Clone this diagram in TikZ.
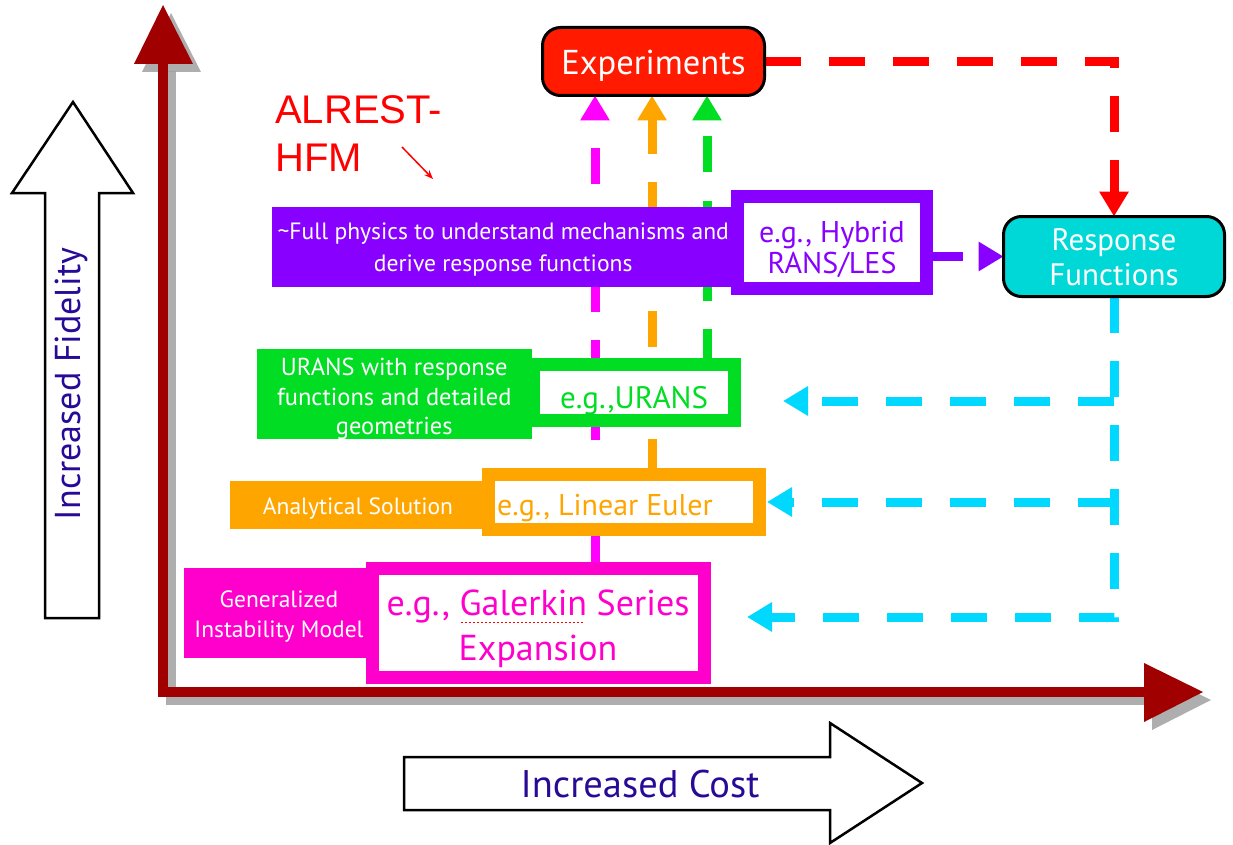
\documentclass[tikz,border=0pt]{standalone}
\usepackage{fontspec}
\setmainfont{PT Sans}
\newfontfamily\arialfont{Liberation Sans}
\usetikzlibrary{arrows.meta,backgrounds,calc}
\definecolor{axisred}{RGB}{160,0,0}
\definecolor{shadowgray}{RGB}{160,160,160}
\definecolor{expred}{RGB}{255,26,0}
\definecolor{dashred}{RGB}{255,0,0}
\definecolor{respcyan}{RGB}{0,216,216}
\definecolor{linecyan}{RGB}{0,216,255}
\definecolor{purp}{RGB}{136,0,255}
\definecolor{grn}{RGB}{0,221,34}
\definecolor{orng}{RGB}{255,165,0}
\definecolor{mag}{RGB}{255,0,204}
\definecolor{magline}{RGB}{255,0,255}
\definecolor{navy}{RGB}{40,10,150}
\newsavebox\spellbox
\newcommand\spellmark[1]{\sbox\spellbox{#1}\rlap{\raisebox{-8pt}{\color{red}\leaders\hbox to 4pt{\hss\rule{2pt}{1.6pt}\hss}\hskip\wd\spellbox}}\usebox\spellbox}
\newcommand\dn[2]{\raisebox{-#1}[\height][\depth]{#2}}
\begin{document}
\begin{tikzpicture}[x=1pt,y=-1pt,
  lbl/.style={fill=#1, text=white, inner sep=0pt, outer sep=0pt, align=center},
  eg/.style={draw=#1, line width=13pt, fill=white, text=#1, inner sep=0pt, outer sep=0pt, align=center},
  rbox/.style={draw=black, line width=3pt, rounded corners=18pt, text=white, align=center, inner sep=0pt, outer sep=0pt},
  conn/.style={line width=9pt, dash pattern=on 36pt off 28pt, -{Triangle[length=25pt,width=28pt]}},
  hollow/.style={draw=black, line width=2.5pt, fill=white, line join=miter},
  axisline/.style={line width=10pt, line join=miter},
  axistext/.style={text=navy, inner sep=0pt}]
\useasboundingbox (0,0) rectangle (1233,845);

% hollow arrows
\draw[hollow] (45,618) -- (45,193) -- (12,193) -- (73,102) -- (133,193) -- (99,193) -- (99,618) -- cycle;
\node[axistext, rotate=90, font=\fontsize{36}{40}\selectfont] (fid) at (71,384) {Increased Fidelity};
\draw[hollow] (404,757) -- (830,757) -- (830,723) -- (922,783) -- (830,843) -- (830,810) -- (404,810) -- cycle;
\node[axistext, font=\fontsize{38.5}{40}\selectfont] (cost) at (640,784) {Increased Cost};

% ALREST-HFM
\node[text=red, inner sep=0pt, anchor=north west, align=left, font=\arialfont\fontsize{40}{48}\selectfont] (alrest) at (275,95) {ALREST-\\HFM};
\coordinate (hfmA) at (402,147);
\coordinate (hfmB) at (433,179);
\draw[red, line width=1.5pt, -{Stealth[length=9pt,width=7pt]}] (hfmA) -- (hfmB);

% level boxes
\node[lbl=purp, minimum width=463.5pt, minimum height=80pt, font=\fontsize{23.6}{32}\selectfont] (purpl) at (503.25,247) {\dn{2.5pt}{\textasciitilde Full physics to understand mechanisms and}\\\dn{2.5pt}{derive response functions}};
\node[eg=purp, minimum width=189pt, minimum height=92pt, font=\fontsize{30}{31}\selectfont] (hyb) at (832,242.5) {\dn{7pt}{e.g., Hybrid}\\\dn{7pt}{RANS/LES}};

\node[lbl=grn, minimum width=275.5pt, minimum height=90pt, font=\fontsize{24.5}{29.5}\selectfont] (grnl) at (394.25,394) {\dn{5pt}{URANS with response}\\\dn{5pt}{functions and detailed}\\\dn{5pt}{geometries}};
\node[eg=grn, minimum width=201pt, minimum height=56pt, font=\fontsize{31}{33}\selectfont] (ura) at (634,392.5) {\dn{8pt}{e.g.,URANS}};

\node[lbl=orng, minimum width=256pt, minimum height=48pt, font=\fontsize{23.5}{28}\selectfont] (orl) at (358,505) {\dn{4pt}{Analytical Solution}};
\node[eg=orng, minimum width=271pt, minimum height=55pt, font=\fontsize{30}{32}\selectfont] (eul) at (624,502) {\dn{6pt}{e.g., Linear Euler}\hspace*{38pt}};

\node[lbl=mag, minimum width=191pt, minimum height=90pt, font=\fontsize{23.5}{30}\selectfont] (magl) at (279,613) {\dn{4pt}{Generalized}\\\dn{4pt}{Instability Model}};
\node[eg=mag, minimum width=332pt, minimum height=109pt, font=\fontsize{36}{45}\selectfont] (gal) at (538,622.5) {\dn{6pt}{e.g., \spellmark{Galerkin} Series}\\\dn{6pt}{Expansion}};

\node[rbox, fill=expred, minimum width=222pt, minimum height=68pt, font=\fontsize{34.5}{36}\selectfont] (exp) at (653.5,61.5) {\dn{4pt}{Experiments}};
\node[rbox, fill=respcyan, minimum width=221pt, minimum height=80pt, font=\fontsize{31}{35}\selectfont] (resp) at (1114,256.5) {\dn{1pt}{Response}\\\dn{1pt}{Functions}};

\coordinate (magx) at (595,0);
\coordinate (orx) at (652,0);
\coordinate (grx) at (707,0);
\coordinate (uratip) at (783,401);
\coordinate (eultip) at (767,502);
\coordinate (galtip) at (747,617);

\begin{pgfonlayer}{background}
  % axis shadow
  \begin{scope}[shift={(8,8)}, shadowgray, opacity=0.85]
    \draw[axisline] (163,63) -- (163,692) -- (1144,692);
    \fill (134,64) -- (163,5) -- (193,64) -- cycle;
    \fill (1144,663) -- (1203,692) -- (1144,722) -- cycle;
  \end{scope}
  \draw[axisline, axisred] (163,63) -- (163,692) -- (1144,692);
  \fill[axisred] (134,64) -- (163,5) -- (193,64) -- cycle;
  \fill[axisred] (1144,663) -- (1203,692) -- (1144,722) -- cycle;
  % connectors
  \draw[conn, draw=magline] (gal.north -| magx) -- (exp.south -| magx);
  \draw[conn, draw=orng] (eul.north -| orx) -- (exp.south -| orx);
  \draw[conn, draw=grn] (ura.north -| grx) -- (exp.south -| grx);
  \draw[conn, draw=dashred] (exp.east) -| (resp.north);
  \draw[conn, draw=purp] (hyb.east |- resp.west) -- (resp.west);
  \draw[conn, draw=linecyan] (resp.south) |- (galtip);
  \draw[conn, draw=linecyan] (resp.south |- uratip) -- (uratip);
  \draw[conn, draw=linecyan] (resp.south |- eultip) -- (eultip);
\end{pgfonlayer}
\end{tikzpicture}
\end{document}
